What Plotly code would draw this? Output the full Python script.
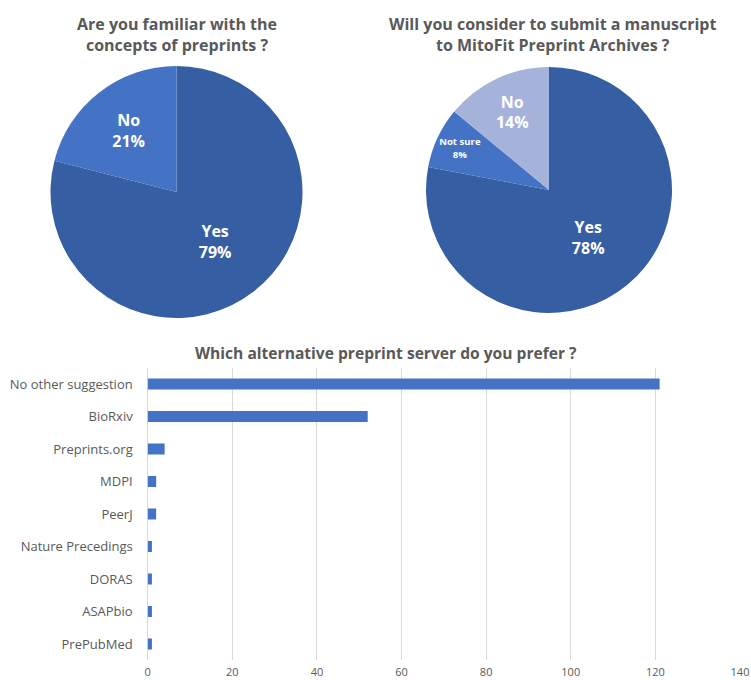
import plotly.graph_objects as go

# ---- data ----
pie1_labels = ["Yes", "No"]
pie1_values = [79, 21]
pie2_labels = ["Yes", "Not sure", "No"]
pie2_values = [78, 8, 14]
bar_categories = ["No other suggestion", "BioRxiv", "Preprints.org", "MDPI", "PeerJ",
                  "Nature Precedings", "DORAS", "ASAPbio", "PrePubMed"]
bar_values = [121, 52, 4, 2, 2, 1, 1, 1, 1]

title1 = "Are you familiar with the<br>concepts of preprints ?"
title2 = "Will you consider to submit a manuscript<br>to MitoFit Preprint Archives ?"
title3 = "Which alternative preprint server do you prefer ?"

W, H = 751, 680
FONT = "Open Sans"
GRAY = "#595959"
DARK = "#365EA3"
MID = "#4472C4"
LIGHT = "#A5B3DB"

def px(x):
    return x / W

def py(y):
    return 1 - y / H

fig = go.Figure()

fig.add_trace(go.Pie(
    labels=pie1_labels, values=pie1_values, sort=False, direction="clockwise",
    rotation=0, marker=dict(colors=[DARK, MID], line=dict(width=0)),
    texttemplate="<b>%{label}<br>%{value}%</b>", textposition="inside",
    insidetextorientation="horizontal",
    insidetextfont=dict(family=FONT, size=16, color="white"),
    domain=dict(x=[px(50.5), px(302.5)], y=[py(318), py(66)]),
    showlegend=False, hoverinfo="label+percent",
))

fig.add_trace(go.Pie(
    labels=pie2_labels, values=pie2_values, sort=False, direction="clockwise",
    rotation=0, marker=dict(colors=[DARK, MID, LIGHT], line=dict(width=0)),
    texttemplate="<b>%{label}<br>%{value}%</b>", textposition="inside",
    insidetextorientation="horizontal",
    insidetextfont=dict(family=FONT, size=[16, 12, 16], color="white"),
    domain=dict(x=[px(426), px(672)], y=[py(313), py(67)]),
    showlegend=False, hoverinfo="label+percent",
))

fig.add_trace(go.Bar(
    x=bar_values, y=bar_categories, orientation="h",
    marker=dict(color=MID, line=dict(width=0)),
    showlegend=False, xaxis="x", yaxis="y",
))

fig.update_layout(
    width=W, height=H,
    margin=dict(l=0, r=0, t=0, b=0, autoexpand=False),
    paper_bgcolor="white", plot_bgcolor="white",
    font=dict(family=FONT, color=GRAY),
    bargap=0.66,
    xaxis=dict(domain=[px(147.7), px(740)], range=[0, 140], dtick=20,
               showgrid=True, gridcolor="#D9D9D9", gridwidth=1,
               zeroline=True, zerolinecolor="#D9D9D9", zerolinewidth=1,
               showline=False, ticks="", tickfont=dict(size=11, color=GRAY),
               ticklabelstandoff=4, automargin=False, anchor="y"),
    yaxis=dict(domain=[py(660.25), py(367.75)], autorange="reversed",
               showgrid=False, zeroline=False, showline=False, ticks="",
               ticklabelstandoff=14, automargin=False,
               tickfont=dict(size=13, color=GRAY), anchor="x"),
    annotations=[
        dict(text="<b>" + title1 + "</b>", x=px(177), y=py(34), xref="paper", yref="paper",
             xanchor="center", yanchor="middle",
             showarrow=False, font=dict(family=FONT, size=16, color=GRAY), align="center"),
        dict(text="<b>" + title2 + "</b>", x=px(552), y=py(34), xref="paper", yref="paper",
             xanchor="center", yanchor="middle",
             showarrow=False, font=dict(family=FONT, size=16, color=GRAY), align="center"),
        dict(text="<b>" + title3 + "</b>", x=px(386), y=py(353), xref="paper", yref="paper",
             xanchor="center", yanchor="middle",
             showarrow=False, font=dict(family=FONT, size=15.6, color=GRAY), align="center"),
    ],
)

fig.write_html("out.html")
